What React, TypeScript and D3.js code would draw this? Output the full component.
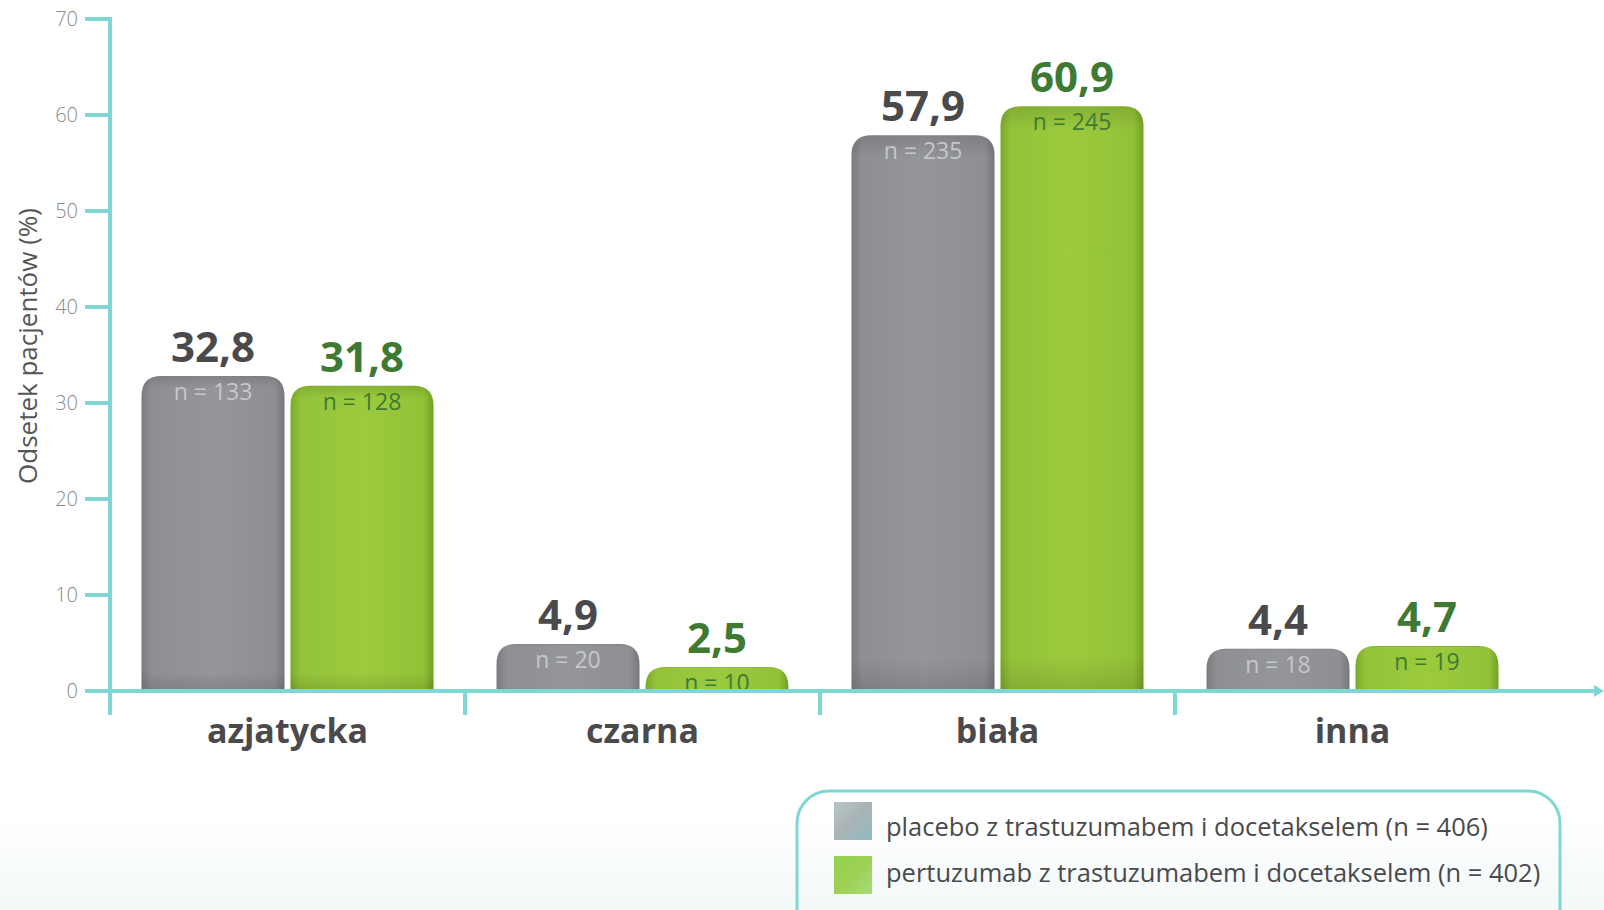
import * as d3 from "d3";

const categories = ["azjatycka", "czarna", "biała", "inna"];
const placeboValues = [32.8, 4.9, 57.9, 4.4];
const pertuzumabValues = [31.8, 2.5, 60.9, 4.7];
const placeboN = [133, 20, 235, 18];
const pertuzumabN = [128, 10, 245, 19];
const yTicks = [0, 10, 20, 30, 40, 50, 60, 70];
const seriesKeys = ["placebo", "pertuzumab"] as const;
const legendLabels = [
  "placebo z trastuzumabem i docetakselem (n = 406)",
  "pertuzumab z trastuzumabem i docetakselem (n = 402)"
];

type SeriesKey = (typeof seriesKeys)[number];

const axisColor = "#7fd7d3";
const valueColors: Record<SeriesKey, string> = { placebo: "#4a4a4c", pertuzumab: "#3f7a34" };
const nColors: Record<SeriesKey, string> = { placebo: "#c6c7c9", pertuzumab: "#3f7a34" };
const font = "'Open Sans', sans-serif";

const fmt = (v: number) => String(v).replace(".", ",");

function topRoundedBar(x: number, y: number, w: number, h: number, r: number) {
  const rr = Math.min(r, h, w / 2);
  return `M${x},${y + h}V${y + rr}Q${x},${y} ${x + rr},${y}H${x + w - rr}Q${x + w},${y} ${x + w},${y + rr}V${y + h}Z`;
}

export default function App() {
  const width = 1604;
  const height = 910;
  const axisY = 691;
  const axisX = 110;
  const y = d3.scaleLinear([0, 70], [axisY, 19]);
  const x0 = d3.scaleBand(categories, [axisX, 1530]);
  const groupWidth = 292;
  const x1 = d3.scaleBand<SeriesKey>([...seriesKeys], [0, groupWidth]).paddingInner(0.04);
  const groupOffset = (x0.bandwidth() - groupWidth) / 2;

  const rows = categories.map((cat, i) => ({
    cat,
    bars: [
      { key: "placebo" as SeriesKey, value: placeboValues[i], n: placeboN[i] },
      { key: "pertuzumab" as SeriesKey, value: pertuzumabValues[i], n: pertuzumabN[i] }
    ]
  }));

  return (
    <div style={{ position: "fixed", left: 0, top: 0 }}>
      <svg width={width} height={height} viewBox={`0 0 ${width} ${height}`} style={{ display: "block" }}>
        <defs>
          <linearGradient id="bg" x1="0" x2="0" y1="0" y2="1">
            <stop offset="0%" stopColor="#ffffff" />
            <stop offset="90%" stopColor="#ffffff" />
            <stop offset="100%" stopColor="#f3f8f9" />
          </linearGradient>
          <linearGradient id="grad-placebo" x1="0" x2="1" y1="0" y2="0">
            <stop offset="0%" stopColor="#7a7b7f" />
            <stop offset="7%" stopColor="#8e8f93" />
            <stop offset="50%" stopColor="#95969a" />
            <stop offset="93%" stopColor="#8e8f93" />
            <stop offset="100%" stopColor="#77787c" />
          </linearGradient>
          <linearGradient id="grad-pertuzumab" x1="0" x2="1" y1="0" y2="0">
            <stop offset="0%" stopColor="#79a92a" />
            <stop offset="7%" stopColor="#93c33a" />
            <stop offset="50%" stopColor="#9bca3d" />
            <stop offset="93%" stopColor="#92c238" />
            <stop offset="100%" stopColor="#72a224" />
          </linearGradient>
          <linearGradient id="shade" x1="0" x2="0" y1="0" y2="1">
            <stop offset="0%" stopColor="#000" stopOpacity="0.12" />
            <stop offset="4%" stopColor="#000" stopOpacity="0" />
            <stop offset="94%" stopColor="#000" stopOpacity="0" />
            <stop offset="100%" stopColor="#000" stopOpacity="0.12" />
          </linearGradient>
          <linearGradient id="sw-placebo" x1="0" x2="1" y1="0" y2="1">
            <stop offset="0%" stopColor="#b7c6c8" />
            <stop offset="50%" stopColor="#a9b3b5" />
            <stop offset="100%" stopColor="#8fbcc2" />
          </linearGradient>
          <linearGradient id="sw-pertuzumab" x1="0" x2="1" y1="0" y2="1">
            <stop offset="0%" stopColor="#8fd34f" />
            <stop offset="50%" stopColor="#9fcf55" />
            <stop offset="100%" stopColor="#a3dd78" />
          </linearGradient>
        </defs>
        <rect x="0" y="0" width={width} height={height} fill="url(#bg)" />

        {/* y axis ticks & labels */}
        {yTicks.map((t) => (
          <g key={t}>
            <line x1={85} x2={axisX} y1={y(t)} y2={y(t)} stroke={axisColor} strokeWidth={4} />
            <text
              x={78}
              y={y(t) + 7}
              textAnchor="end"
              fontFamily={font}
              fontWeight={300}
              fontSize={20}
              fill="#8a8a8a"
            >
              {t}
            </text>
          </g>
        ))}
        <text
          transform={`translate(37, 346) rotate(-90)`}
          textAnchor="middle"
          fontFamily={font}
          fontSize={26}
          fill="#555"
        >
          Odsetek pacjentów (%)
        </text>

        {/* bars */}
        {rows.map((row) => (
          <g key={row.cat} transform={`translate(${(x0(row.cat) ?? 0) + groupOffset},0)`}>
            {row.bars.map((b) => {
              const bx = x1(b.key) ?? 0;
              const bw = x1.bandwidth();
              const top = y(b.value);
              const h = axisY - top;
              const d = topRoundedBar(bx, top, bw, h, 20);
              return (
                <g key={b.key}>
                  <path d={d} fill={`url(#grad-${b.key})`} />
                  <path d={d} fill="url(#shade)" />
                  <text
                    x={bx + bw / 2}
                    y={top + 24}
                    textAnchor="middle"
                    fontFamily={font}
                    fontSize={23}
                    fill={nColors[b.key]}
                  >
                    n = {b.n}
                  </text>
                  <text
                    x={bx + bw / 2}
                    y={top - 14}
                    textAnchor="middle"
                    fontFamily={font}
                    fontWeight={700}
                    fontSize={42}
                    fill={valueColors[b.key]}
                  >
                    {fmt(b.value)}
                  </text>
                </g>
              );
            })}
          </g>
        ))}

        {/* x axis */}
        <line x1={85} x2={1596} y1={axisY} y2={axisY} stroke={axisColor} strokeWidth={4} />
        <path d={`M1594,${axisY - 6}L1604,${axisY}L1594,${axisY + 6}Z`} fill={axisColor} />
        <line x1={axisX} x2={axisX} y1={17} y2={715} stroke={axisColor} strokeWidth={4} />
        {categories.slice(1).map((cat) => (
          <line
            key={cat}
            x1={x0(cat) ?? 0}
            x2={x0(cat) ?? 0}
            y1={axisY}
            y2={715}
            stroke={axisColor}
            strokeWidth={4}
          />
        ))}
        {categories.map((cat) => (
          <text
            key={cat}
            x={(x0(cat) ?? 0) + x0.bandwidth() / 2}
            y={743}
            textAnchor="middle"
            fontFamily={font}
            fontWeight={700}
            fontSize={34}
            fill="#4a4a4c"
          >
            {cat}
          </text>
        ))}

        {/* legend */}
        <rect x={797} y={791} width={763} height={150} rx={32} fill="none" stroke={axisColor} strokeWidth={3} />
        {seriesKeys.map((key, i) => (
          <rect key={key} x={834} y={802 + i * 54} width={38} height={38} fill={`url(#sw-${key})`} />
        ))}
        {seriesKeys.map((key, i) => (
          <text key={key} x={886} y={836 + i * 46} fontFamily={font} fontSize={25.5} fill="#4a4a4c">
            {legendLabels[i]}
          </text>
        ))}
      </svg>
    </div>
  );
}
